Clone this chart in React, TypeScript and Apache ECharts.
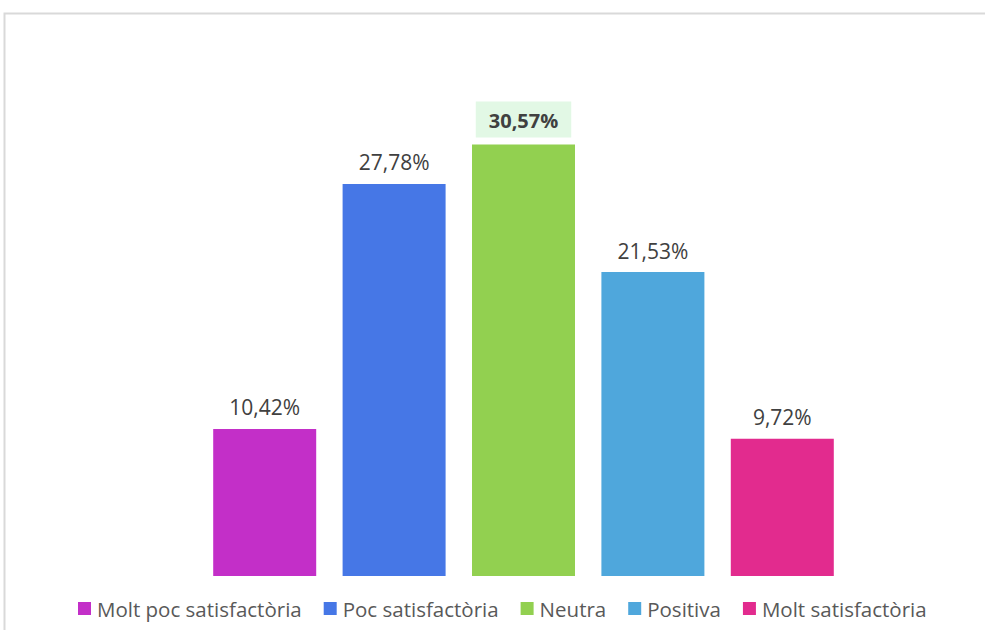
import React, { useEffect, useRef } from "react";
import * as echarts from "echarts";

const categories = ["Molt poc satisfactòria", "Poc satisfactòria", "Neutra", "Positiva", "Molt satisfactòria"];
const values = [10.42, 27.78, 30.57, 21.53, 9.72];
const colors = ["#c32fc8", "#4677e6", "#92d050", "#4fa7dc", "#e22b8e"];

const fmt = (v: number) => v.toFixed(2).replace(".", ",") + "%";
const FONT = "Open Sans, Liberation Sans, sans-serif";

export default function App() {
  const ref = useRef<HTMLDivElement>(null);
  useEffect(() => {
    const chart = echarts.init(ref.current!, null, { renderer: "svg" });
    const maxV = Math.max(...values);
    const series = categories.map((name, i) => ({
      name,
      type: "bar",
      stack: "s",
      barWidth: 103,
      data: categories.map((_, j) => (j === i ? values[i] : null)),
      itemStyle: { color: colors[i] },
      label: {
        show: true,
        position: "top",
        distance: values[i] === maxV ? 7 : 11,
        formatter: (p: any) => fmt(p.value),
        fontSize: values[i] === maxV ? 20 : 21,
        fontFamily: FONT,
        color: "#404040",
        fontWeight: values[i] === maxV ? "bold" : "normal",
        backgroundColor: values[i] === maxV ? "#e2f8e5" : "transparent",
        padding: values[i] === maxV ? [9, 13, 7, 13] : 0,
      },
    }));
    chart.setOption({
      animation: false,
      backgroundColor: "#ffffff",
      graphic: [
        {
          type: "rect",
          shape: { x: 4.5, y: 13.5, width: 1100, height: 800 },
          style: { fill: "none", stroke: "#d9d9d9", lineWidth: 2 },
          silent: true,
        },
      ],
      grid: { left: 200, width: 647, top: 82, bottom: 54 },
      legend: {
        bottom: 6,
        left: 73,
        itemWidth: 13,
        itemHeight: 13,
        itemGap: 22,
        icon: "rect",
        textStyle: { fontSize: 20.5, color: "#595959", fontFamily: FONT, padding: [0, 0, 0, 1] },
        data: categories,
      },
      xAxis: {
        type: "category",
        data: categories,
        axisLine: { show: false },
        axisTick: { show: false },
        axisLabel: { show: false },
      },
      yAxis: {
        type: "value",
        min: 0,
        max: 35,
        show: false,
        splitLine: { show: false },
      },
      series,
    });
    return () => chart.dispose();
  }, []);
  return (
    <div
      ref={ref}
      style={{ position: "fixed", left: 0, top: 0, width: 985, height: 630 }}
    />
  );
}
